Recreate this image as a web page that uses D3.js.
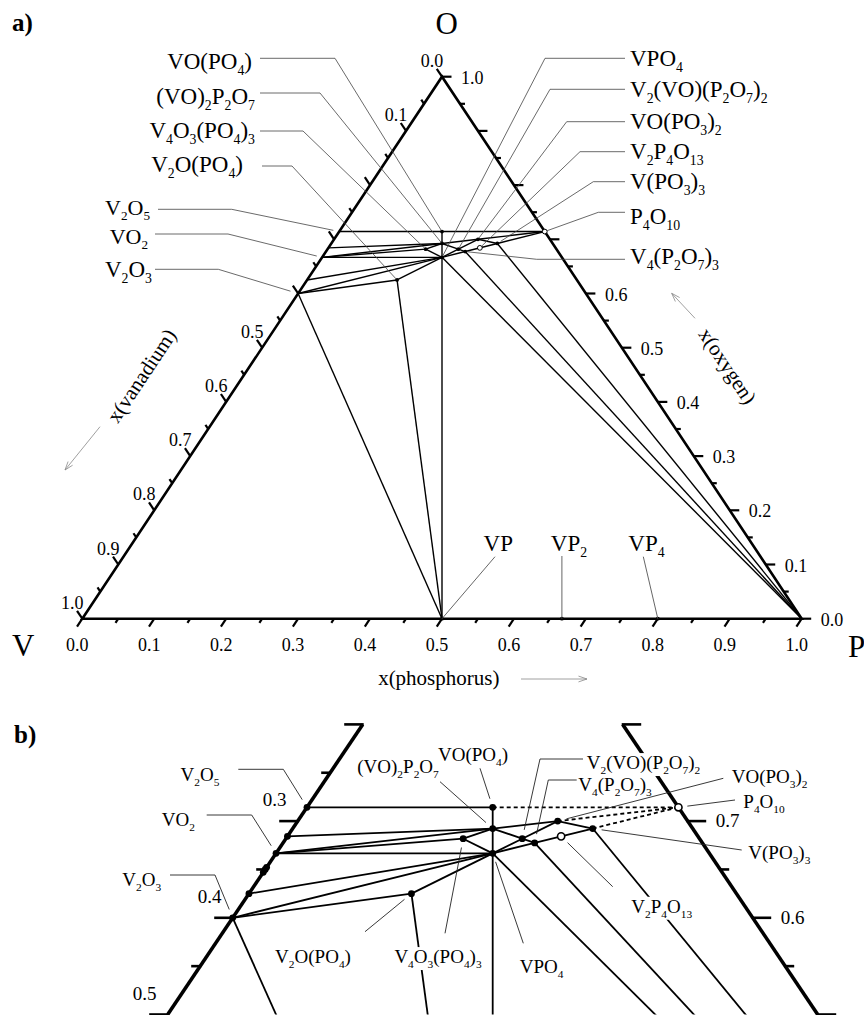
<!DOCTYPE html>
<html><head><meta charset="utf-8">
<script src="https://cdn.jsdelivr.net/npm/d3@7"></script>
<style>body{margin:0;background:#fff}svg{display:block}
svg text, svg tspan{font-family:"Liberation Serif","DejaVu Serif","Times New Roman",serif;}
</style>
</head><body>
<svg id="c" width="864" height="1015"></svg>
<script>
// ---------------- DATA ----------------
const phaseNames = ["V","P","O","VP","VP2","VP4","V2O5","V6O13","VO2","V8O15","V7O13","V6O11","V3O5","V2O3",
  "VO(PO4)","(VO)2P2O7","VPO4","V4O3(PO4)3","V2O(PO4)","V2(VO)(P2O7)2","V4(P2O7)3","VO(PO3)2","V2P4O13","V(PO3)3","P4O10"];
const atomsV = [1,0,0,1,1,1,2,6,1,8,7,6,3,2, 1,2,1,4,2,3,4,1,2,1,0];
const atomsP = [0,1,0,1,2,4,0,0,0,0,0,0,0,0, 1,2,1,3,1,4,6,2,4,3,4];
const atomsO = [0,0,1,0,0,0,5,13,2,15,13,11,5,3, 5,9,4,15,5,15,21,7,13,9,10];

const tieFrom = ["V2O5","VO(PO4)","VO(PO4)","V6O13","VO2","VO2","VO2","V3O5","V2O3","V2O3","V2O(PO4)","V2O(PO4)","V2O3",
  "V4O3(PO4)3","V4O3(PO4)3","(VO)2P2O7","(VO)2P2O7","V2(VO)(P2O7)2","V2(VO)(P2O7)2","VPO4","VPO4","VO(PO3)2","V4(P2O7)3",
  "VO(PO3)2","V(PO3)3","VPO4","V4(P2O7)3","V(PO3)3"];
const tieTo = ["VO(PO4)","P4O10","VP","(VO)2P2O7","(VO)2P2O7","V4O3(PO4)3","VPO4","VPO4","VPO4","V2O(PO4)","VPO4","VP","VP",
  "(VO)2P2O7","VPO4","VO(PO3)2","V2(VO)(P2O7)2","VO(PO3)2","V4(P2O7)3","V2(VO)(P2O7)2","V4(P2O7)3","V(PO3)3","V(PO3)3",
  "P4O10","P4O10","P","P","P"];
const tieDashedB = [0,1,0,0,0,0,0,0,0,0,0,0,0, 0,0,0,0,0,0,0,0,0,0, 1,1,0,0,0];

const pointsA = ["VO(PO4)","(VO)2P2O7","VPO4","V4O3(PO4)3","V2O(PO4)","V2(VO)(P2O7)2","V4(P2O7)3","VO(PO3)2","V(PO3)3","VP","VP2","VP4"];
const pointsB = ["V2O5","V6O13","VO2","V8O15","V7O13","V6O11","V3O5","V2O3","VO(PO4)","(VO)2P2O7","VPO4","V4O3(PO4)3",
  "V2O(PO4)","V2(VO)(P2O7)2","V4(P2O7)3","VO(PO3)2","V(PO3)3"];
const openPoints = ["V2P4O13","P4O10"];

const tickValues = d3.range(0, 1.0001, 0.05);
const leftShownA = ["0.0","0.1","0.5","0.6","0.7","0.8","0.9","1.0"];
const rightShownA = ["0.0","0.1","0.2","0.3","0.4","0.5","0.6","1.0"];
const ticksB = d3.range(0.5, 0.8001, 0.05);
const leftLabelsB = ["0.3","0.4","0.5"];
const rightLabelsB = ["0.7","0.6"];

// ---------------- SETUP ----------------
const svg = d3.select("#c");
const comp = {};
phaseNames.forEach((n,i)=>{const t=atomsV[i]+atomsP[i]+atomsO[i]; comp[n]={v:atomsV[i]/t,p:atomsP[i]/t,o:atomsO[i]/t};});

const ax = d3.scaleLinear().domain([0,1]).range([82.3, 801.7]);
const ay = d3.scaleLinear().domain([0,1]).range([618.7, 76.7]);
const bx = d3.scaleLinear().domain([0,1]).range([-157.3, 1142.7]);
const by = d3.scaleLinear().domain([0,1]).range([1498, 531]);
const PA = n => {const c=comp[n]; return [ax(c.p+0.5*c.o), ay(c.o)];};
const PB = n => {const c=comp[n]; return [bx(c.p+0.5*c.o), by(c.o)];};
const towards = (p,q,g)=>{const dx=q[0]-p[0],dy=q[1]-p[1],L=Math.hypot(dx,dy)||1;return [p[0]+dx/L*g,p[1]+dy/L*g];};
const lineGen = d3.line();

function formula(g, str, x, cy, fs, anchor, bg){
  const sh = fs*0.26;
  const t = g.append("text").attr("x",x).attr("y",cy+fs*0.32).attr("font-size",fs).attr("text-anchor",anchor).attr("fill","#000");
  let shifted=false;
  (str.match(/\d+|[^\d]+/g)||[]).forEach(p=>{
    const ts=t.append("tspan").text(p);
    if(/^\d+$/.test(p)){ ts.attr("font-size",fs*0.6); if(!shifted) ts.attr("dy",sh); shifted=true; }
    else { if(shifted) ts.attr("dy",-sh); shifted=false; }
  });
  if(bg){ const b=t.node().getBBox(); g.insert("rect",()=>t.node()).attr("x",b.x-1).attr("y",b.y+1).attr("width",b.width+2).attr("height",b.height-1).attr("fill","#fff"); }
  return t;
}
function arrow(g,x1,y1,x2,y2){
  g.append("line").attr("x1",x1).attr("y1",y1).attr("x2",x2).attr("y2",y2).attr("stroke","#888").attr("stroke-width",0.8);
  const a=Math.atan2(y2-y1,x2-x1), L=9, s=0.33;
  [a+Math.PI-s,a+Math.PI+s].forEach(b=>g.append("line").attr("x1",x2).attr("y1",y2).attr("x2",x2+L*Math.cos(b)).attr("y2",y2+L*Math.sin(b)).attr("stroke","#888").attr("stroke-width",0.8));
}

// ================= PANEL A =================
const gA = svg.append("g");
tieFrom.forEach((f,i)=>{
  gA.append("path").attr("d",lineGen([PA(f),PA(tieTo[i])])).attr("stroke","#000").attr("stroke-width",1.4).attr("fill","none");
});
gA.append("path").attr("d",lineGen([PA("V"),PA("P"),PA("O")])+"Z").attr("fill","none").attr("stroke","#000").attr("stroke-width",2.6).attr("stroke-linejoin","miter");
const vV=PA("V"), vP=PA("P"), vO=PA("O");
const unit=(a,b)=>{const dx=b[0]-a[0],dy=b[1]-a[1],L=Math.hypot(dx,dy);return [dx/L,dy/L];};
const dBottom=unit(vO,vV), dLeft=unit(vP,vO);
const fmt=d3.format(".1f");
tickValues.forEach(t=>{
  const major=Math.abs(Math.round(t*10)-t*10)<1e-6, len=major?9.5:5;
  let p=[ax(t),ay(0)];
  gA.append("line").attr("x1",p[0]).attr("y1",p[1]).attr("x2",p[0]+dBottom[0]*len).attr("y2",p[1]+dBottom[1]*len).attr("stroke","#000").attr("stroke-width",2.2);
  if(major) gA.append("text").attr("x",p[0]-5).attr("y",p[1]+32).attr("font-size",18).attr("text-anchor","middle").text(fmt(t));
  p=[ax(0.5*(1-t)),ay(1-t)];
  gA.append("line").attr("x1",p[0]).attr("y1",p[1]).attr("x2",p[0]+dLeft[0]*len).attr("y2",p[1]+dLeft[1]*len).attr("stroke","#000").attr("stroke-width",2.2);
  if(major && leftShownA.includes(fmt(t))) gA.append("text").attr("x",p[0]-10).attr("y",p[1]-10).attr("font-size",18).attr("text-anchor","middle").text(fmt(t));
  p=[ax(1-0.5*t),ay(t)];
  gA.append("line").attr("x1",p[0]).attr("y1",p[1]).attr("x2",p[0]+len).attr("y2",p[1]).attr("stroke","#000").attr("stroke-width",2.2);
  if(major && rightShownA.includes(fmt(t))) gA.append("text").attr("x",p[0]+19).attr("y",p[1]+7).attr("font-size",18).attr("text-anchor","start").text(fmt(t));
});
pointsA.forEach(n=>{const p=PA(n); gA.append("circle").attr("cx",p[0]).attr("cy",p[1]).attr("r",1.9).attr("fill","#000");});
openPoints.forEach(n=>{const p=PA(n); gA.append("circle").attr("cx",p[0]).attr("cy",p[1]).attr("r",2.4).attr("fill","#fff").attr("stroke","#000").attr("stroke-width",1);});

const labA = [
  ["VO(PO4)",252,61.7,"end",[[260,58.3],[335,58.3]],1.5],
  ["(VO)2P2O7",255,96.7,"end",[[260,93],[320,93]],1.5],
  ["V4O3(PO4)3",255,131,"end",[[260,131],[303,131]],1.5],
  ["V2O(PO4)",243,165,"end",[[262,166],[292,166]],1.5],
  ["V2O5",150,207.5,"end",[[158,209.3],[231.7,209.3]],6],
  ["VO2",148,236.5,"end",[[155,234],[228,234]],5.5],
  ["V2O3",152,270,"end",[[155,269.3],[218.3,269.3]],8],
  ["VPO4",630,58.3,"start",[[625,58.3],[545,58.3]],1.5],
  ["V2(VO)(P2O7)2",630,89.3,"start",[[625,89.3],[550,89.3]],1.5],
  ["VO(PO3)2",630,121.7,"start",[[625,121.7],[566.7,121.7]],1.5],
  ["V2P4O13",630,151.7,"start",[[625,151.7],[580,151.7]],2.5],
  ["V(PO3)3",630,181.7,"start",[[625,181.7],[593.3,181.7]],4],
  ["P4O10",630,216.7,"start",[[625,212.3],[598.3,212.3]],2.5],
  ["V4(P2O7)3",630,256.7,"start",[[625,259.3],[536.7,259.3]],2]
];
labA.forEach(([n,x,cy,anc,route,gap])=>{
  const pt=PA(n), end=towards(pt,route[route.length-1],gap);
  gA.append("path").attr("d",lineGen([...route,end])).attr("fill","none").attr("stroke","#444").attr("stroke-width",0.8);
  const fs = (n==="V2O5"||n==="VO2") ? 22 : 23;
  formula(gA,n,x,cy,fs,anc,false);
});
[["VP",498.3,543.3,[495,556.7]],["VP2",569,543.3,null],["VP4",646.5,543.3,[643.3,556.7]]].forEach(([n,x,cy,st])=>{
  const pt=PA(n); const s = st || [pt[0],556];
  gA.append("line").attr("x1",s[0]).attr("y1",s[1]).attr("x2",pt[0]).attr("y2",pt[1]).attr("stroke","#555").attr("stroke-width",0.9);
  formula(gA,n,x,cy,23,"middle",false);
});
gA.append("text").attr("x",23.3).attr("y",656).attr("font-size",31).attr("text-anchor","middle").text("V");
gA.append("text").attr("x",856.7).attr("y",657).attr("font-size",31).attr("text-anchor","middle").text("P");
gA.append("text").attr("x",446.7).attr("y",34).attr("font-size",31).attr("text-anchor","middle").text("O");
gA.append("text").attr("x",12).attr("y",31).attr("font-size",25).attr("font-weight","bold").text("a)");
gA.append("text").attr("x",438.8).attr("y",685).attr("font-size",21).attr("text-anchor","middle").text("x(phosphorus)");
arrow(gA,521,679,587,679);
gA.append("text").attr("transform","translate(141.7,375.8) rotate(-56.4)").attr("y",7).attr("font-size",21).attr("text-anchor","middle").text("x(vanadium)");
arrow(gA,100,426.7,65,470);
gA.append("text").attr("transform","translate(727.5,366) rotate(56.4)").attr("y",7).attr("font-size",21).attr("text-anchor","middle").text("x(oxygen)");
arrow(gA,695,318.3,671.7,293.3);

// ================= PANEL B =================
svg.append("clipPath").attr("id","clipB").append("rect").attr("x",0).attr("y",700).attr("width",864).attr("height",by(0.5)-700);
const gB = svg.append("g");
const gBc = gB.append("g").attr("clip-path","url(#clipB)");
tieFrom.forEach((f,i)=>{
  gBc.append("path").attr("d",lineGen([PB(f),PB(tieTo[i])])).attr("stroke","#000").attr("stroke-width",1.8).attr("fill","none")
    .attr("stroke-dasharray",tieDashedB[i]?"4,3":null);
});
gB.append("path").attr("d",lineGen([[bx(0.25),by(0.5)],[bx(0.4),by(0.8)]])).attr("stroke","#000").attr("stroke-width",3.6).attr("fill","none");
gB.append("path").attr("d",lineGen([[bx(0.75),by(0.5)],[bx(0.6),by(0.8)]])).attr("stroke","#000").attr("stroke-width",3.6).attr("fill","none");
ticksB.forEach(t=>{
  const major=Math.abs(Math.round(t*10)-t*10)<1e-6, len=major?18.5:9;
  const pl=[bx(0.5*t),by(t)], pr=[bx(1-0.5*t),by(t)];
  gB.append("line").attr("x1",pl[0]+1).attr("y1",pl[1]).attr("x2",pl[0]-len).attr("y2",pl[1]).attr("stroke","#000").attr("stroke-width",2.6);
  gB.append("line").attr("x1",pr[0]-1).attr("y1",pr[1]).attr("x2",pr[0]+len).attr("y2",pr[1]).attr("stroke","#000").attr("stroke-width",2.6);
  const lv=fmt(1-t), lo=fmt(t);
  if(major && leftLabelsB.includes(lv)) gB.append("text").attr("x",pl[0]-23).attr("y",pl[1]-15).attr("font-size",19).attr("text-anchor","middle").text(lv);
  if(major && rightLabelsB.includes(lo)) gB.append("text").attr("x",pr[0]+28).attr("y",pr[1]+6).attr("font-size",19).attr("text-anchor","start").text(lo);
});
pointsB.forEach(n=>{const p=PB(n); gB.append("circle").attr("cx",p[0]).attr("cy",p[1]).attr("r",3.4).attr("fill","#000");});
openPoints.forEach(n=>{const p=PB(n); gB.append("circle").attr("cx",p[0]).attr("cy",p[1]).attr("r",3.6).attr("fill","#fff").attr("stroke","#000").attr("stroke-width",1.6);});

const labB = [
  ["V2O5",200,775,"middle",[[238.3,769.3],[283.3,769.3]]],
  ["VO2",178.3,820,"middle",[[206.7,815],[251.7,815]]],
  ["V2O3",141.7,880,"middle",[[170,875],[215,875]]],
  ["(VO)2P2O7",398,767,"middle",[[440,781.7]]],
  ["VO(PO4)",473,755,"middle",[[480,768.3]]],
  ["V2(VO)(P2O7)2",586.7,763,"start",[[583,759],[540,759]]],
  ["V4(P2O7)3",578.3,785,"start",[[576.7,780],[548.3,780]]],
  ["VO(PO3)2",731.7,776.7,"start",[[723.3,778.3]]],
  ["P4O10",743.3,801.7,"start",[[735,800]]],
  ["V(PO3)3",748.3,853.3,"start",[[741.7,850]]],
  ["V2P4O13",661.7,906.7,"middle",[[612.7,886.7]]],
  ["VPO4",541.7,966.7,"middle",[[523.3,943.3]]],
  ["V4O3(PO4)3",438,957,"middle",[[445,933.3]]],
  ["V2O(PO4)",313,957,"middle",[[365,931.7]]]
];
labB.forEach(([n,x,cy,anc])=>formula(gB,n,x,cy,19,anc,true));
labB.forEach(([n,x,cy,anc,route])=>{
  const pt=PB(n), end=towards(pt,route[route.length-1],9);
  gB.append("path").attr("d",lineGen([...route,end])).attr("fill","none").attr("stroke","#222").attr("stroke-width",0.9);
});
gB.append("text").attr("x",14).attr("y",743).attr("font-size",25).attr("font-weight","bold").text("b)");
</script>
</body></html>
